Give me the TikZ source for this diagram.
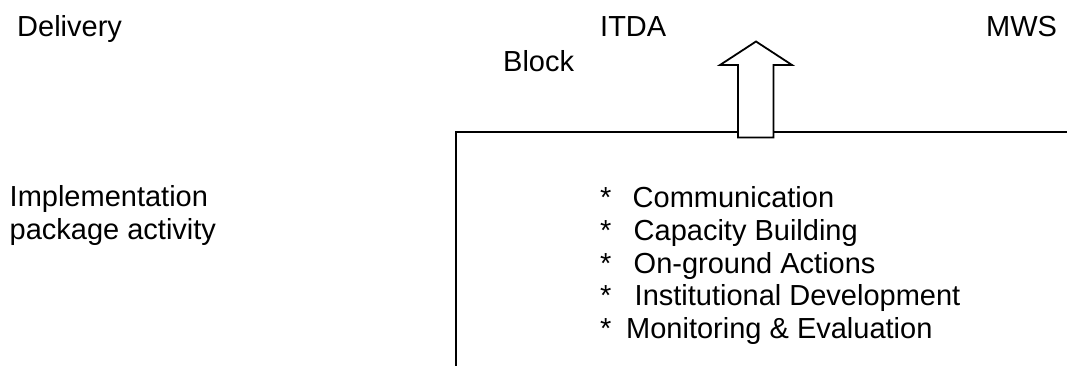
\documentclass[tikz,border=0pt]{standalone}
\usepackage{fontspec}
\setmainfont{Liberation Sans}
\begin{document}
\begin{tikzpicture}[x=1pt,y=-1pt,
  lbl/.style={anchor=base west,inner sep=0pt,font=\fontsize{29}{33}\selectfont},
  frame/.style={line width=1.8pt,line join=miter},
  uparrow/.style={line width=1.8pt,fill=white,line join=miter}]
  \useasboundingbox (0,0) rectangle (1067,366);

  % corner points of the package frame
  \coordinate (fl) at (456,366);
  \coordinate (ftl) at (456,132);
  \coordinate (fr) at (1067,132);
  \draw[frame] (fl) -- (ftl) -- (fr);

  % block arrow rising out of the frame
  \draw[uparrow] (738,137.5) -- (738,65) -- (720,65) -- (756,41.5)
    -- (792,65) -- (773.5,65) -- (773.5,137.5) -- cycle;

  % level headings
  \node[lbl] (delivery) at (17,37) {Delivery};
  \node[lbl] (itda) at (600,37) {ITDA};
  \node[lbl] (mws) at (986,37) {MWS};
  \node[lbl] (block) at (503,71.5) {Block};

  % left label
  \node[lbl] (impl1) at (9.5,206.5) {Implementation};
  \node[lbl] (impl2) at (9.5,239) {package activity};

  % package activities
  \node[lbl] (s1) at (600,207) {*};
  \node[lbl] (a1) at (632.5,207) {Communication};
  \node[lbl] (s2) at (600,240) {*};
  \node[lbl] (a2) at (633.5,240) {Capacity Building};
  \node[lbl] (s3) at (600,273) {*};
  \node[lbl] (a3) at (633.5,273) {On-ground Actions};
  \node[lbl] (s4) at (600,305.5) {*};
  \node[lbl] (a4) at (634.5,305.5) {Institutional Development};
  \node[lbl] (s5) at (600,338) {*};
  \node[lbl] (a5) at (626,338) {Monitoring \& Evaluation};
\end{tikzpicture}
\end{document}
